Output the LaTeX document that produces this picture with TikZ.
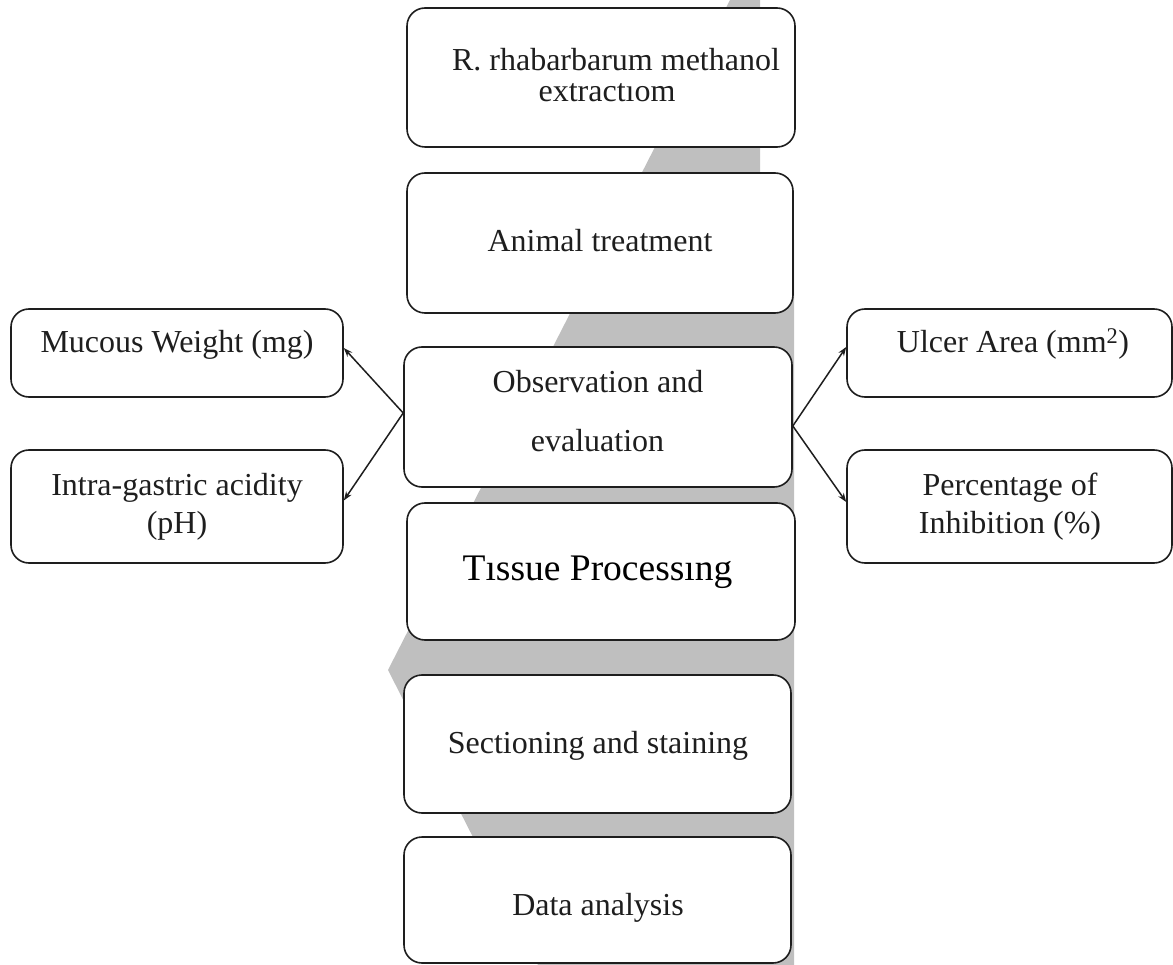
\documentclass[tikz,border=0pt]{standalone}
\usepackage{fontspec}
\setmainfont{Liberation Serif}
\usetikzlibrary{arrows.meta}
\definecolor{band}{RGB}{191,191,191}
\definecolor{ink}{RGB}{30,30,30}
\begin{document}
\begin{tikzpicture}[x=1pt,y=-1pt,
  box/.style={draw=ink,line width=1.6pt,rounded corners=18pt,fill=white,inner sep=0pt},
  lbl/.style={anchor=base,inner sep=0pt,font=\fontsize{32}{38}\selectfont,text=ink},
  big/.style={anchor=base,inner sep=0pt,font=\fontsize{37.5}{44}\selectfont,text=black},
  conn/.style={draw=ink,line width=1.5pt,-{Stealth[length=9pt,width=6.5pt]}}]
\useasboundingbox (0,0) rectangle (1173,965);
% grey band behind the column
\fill[band] (730,0) -- (760,0) -- (760,240) -- (794,240) -- (794,965) -- (538,965) -- (388,670) -- cycle;
% central column
\node[box,minimum width=388pt,minimum height=139pt] (b1) at (601,77.5) {};
\node[box,minimum width=386pt,minimum height=140pt] (b2) at (600,243) {};
\node[box,minimum width=388pt,minimum height=140pt] (obs) at (598,417) {};
\node[box,minimum width=388pt,minimum height=137pt] (b4) at (601,571.5) {};
\node[box,minimum width=387pt,minimum height=138pt] (b5) at (597.5,744) {};
\node[box,minimum width=387pt,minimum height=126pt] (b6) at (597.5,900) {};
% side boxes
\node[box,minimum width=332pt,minimum height=88pt] (muc) at (177,353) {};
\node[box,minimum width=332pt,minimum height=113pt] (ph) at (177,506.5) {};
\node[box,minimum width=325pt,minimum height=88pt] (ulc) at (1009.5,353) {};
\node[box,minimum width=325pt,minimum height=113pt] (inh) at (1009.5,506.5) {};
% texts
\node[lbl] (t1a) at (616,71) {R. rhabarbarum methanol};
\node[lbl] (t1b) at (607,102) {extract\i om};
\node[lbl] (t2) at (600,252) {Animal treatment};
\node[lbl] (t3a) at (598,393) {Observation and};
\node[lbl] (t3b) at (597.5,452) {evaluation};
\node[big] (t4) at (597.5,580) {T\i ssue Process\i ng};
\node[lbl] (t5) at (598,753) {Sectioning and staining};
\node[lbl] (t6) at (598,915) {Data analysis};
\node[lbl] (tm) at (177,353) {Mucous Weight (mg)};
\node[lbl] (tpa) at (177,495) {Intra-gastric acidity};
\node[lbl] (tpb) at (177,533) {(pH)};
\node[lbl] (tu) at (1013,353) {Ulcer Area (mm\textsuperscript{2})};
\node[lbl] (tia) at (1010,495) {Percentage of};
\node[lbl] (tib) at (1010,533) {Inhibition (\%)};
% connectors
\draw[conn] ([yshift=4pt]obs.west) -- ([yshift=5pt]muc.east);
\draw[conn] ([yshift=4pt]obs.west) -- ([yshift=6pt]ph.east);
\draw[conn] ([yshift=-9pt]obs.east) -- ([yshift=6pt]ulc.west);
\draw[conn] ([yshift=-9pt]obs.east) -- ([yshift=4.5pt]inh.west);
\end{tikzpicture}
\end{document}
